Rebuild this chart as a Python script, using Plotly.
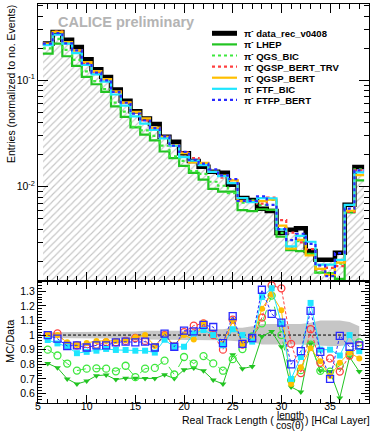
import plotly.graph_objects as go

# bins of the real track length (HCal layer), bin width 1
bins = list(range(6, 39))

# data histogram (normalised entries), pi- data_rec_v0408
data_vals = [0.221, 0.284, 0.240, 0.205, 0.157, 0.127, 0.107, 0.0818, 0.0643, 0.0512,
             0.0438, 0.0387, 0.0294, 0.0264, 0.0206, 0.0174, 0.0154, 0.0138, 0.0135, 0.0104,
             0.00783, 0.00750, 0.0062, 0.0059, 0.00368, 0.00393, 0.00406, 0.00249, 0.00206,
             0.00206, 0.00239, 0.00675, 0.0153]

# MC / data ratios, read from the lower pad
r_lhep = [0.806, 0.776, 0.700, 0.665, 0.685, 0.722, 0.727, 0.695, 0.705, 0.705, 0.703, 0.703,
          0.728, 0.703, 0.762, 0.775, 0.755, 0.692, 0.665, 0.865, 0.770, 0.785, 0.990, 1.025,
          0.920, 0.645, 0.610, 0.940, 0.755, 0.750, 0.570, 0.850, 0.750]
r_qgs_bic = [0.900, 0.860, 0.805, 0.757, 0.770, 0.772, 0.770, 0.752, 0.790, 0.712, 0.770, 0.775,
             0.825, 0.730, 0.850, 0.805, 0.856, 0.806, 0.756, 0.835, 0.904, 0.990, 1.080, 1.270,
             1.000, 0.690, 0.760, 0.935, 0.755, 0.750, 0.790, 0.875, 0.950]
r_qgsp_trv = [1.000, 1.012, 0.935, 0.930, 0.910, 0.935, 0.950, 0.950, 0.960, 0.980, 0.960, 0.915,
              1.000, 0.920, 1.020, 1.065, 1.080, 1.000, 0.900, 1.105, 0.935, 0.970, 1.120, 1.340,
              1.320, 0.940, 0.740, 1.040, 0.810, 0.840, 0.750, 0.860, 0.930]
r_qgsp_bert = [1.000, 1.000, 0.950, 0.932, 0.945, 0.960, 0.960, 0.960, 0.965, 0.985, 1.000, 0.925,
               1.000, 0.930, 1.000, 0.970, 1.085, 1.000, 0.940, 1.100, 0.940, 0.970, 1.180, 1.280,
               1.170, 0.665, 0.780, 0.910, 0.820, 0.720, 0.810, 0.880, 0.840]
r_ftf_bic = [0.966, 0.943, 0.920, 0.876, 0.885, 0.893, 0.905, 0.898, 0.898, 0.893, 0.893, 0.880,
             0.968, 0.918, 0.920, 1.010, 1.035, 1.000, 0.930, 1.040, 1.000, 0.955, 1.260, 1.320,
             1.080, 0.700, 0.850, 1.220, 0.900, 0.900, 0.860, 1.000, 0.890]
r_ftfp_bert = [1.000, 0.975, 0.925, 0.930, 0.915, 0.930, 0.930, 0.950, 0.955, 0.950, 0.955, 0.915,
               1.010, 0.920, 1.030, 1.025, 1.070, 1.055, 0.945, 1.130, 0.940, 0.980, 1.310, 1.145,
               1.085, 0.800, 0.890, 1.165, 0.885, 0.700, 0.995, 0.920, 0.930]

# data uncertainty band in the ratio pad
band_up = [1.02, 1.02, 1.02, 1.02, 1.02, 1.02, 1.02, 1.025, 1.025, 1.025, 1.03, 1.03, 1.03, 1.03,
           1.03, 1.04, 1.04, 1.04, 1.04, 1.05, 1.05, 1.06, 1.075, 1.075, 1.075, 1.075, 1.075,
           1.085, 1.10, 1.10, 1.10, 1.09, 1.06]
band_lo = [0.98, 0.98, 0.98, 0.98, 0.98, 0.98, 0.98, 0.975, 0.975, 0.975, 0.97, 0.97, 0.97, 0.97,
           0.97, 0.965, 0.965, 0.965, 0.965, 0.96, 0.955, 0.95, 0.935, 0.935, 0.935, 0.935, 0.935,
           0.93, 0.925, 0.925, 0.925, 0.93, 0.94]

models = [
    # name, ratio, colour, top line dash, ratio line dash, marker symbol
    ("LHEP", r_lhep, "#22c422", "solid", "solid", "triangle-down"),
    ("QGS_BIC", r_qgs_bic, "#3ee83e", "dot", "dash", "circle-open"),
    ("QGSP_BERT_TRV", r_qgsp_trv, "#ff4040", "dot", "3px,2px", "circle-open"),
    ("QGSP_BERT", r_qgsp_bert, "#ffbf00", "solid", "solid", "circle"),
    ("FTF_BIC", r_ftf_bic, "#1ee6ff", "solid", "solid", "square"),
    ("FTFP_BERT", r_ftfp_bert, "#2a2aff", "dot", "3px,2px", "square-open"),
]

log_ticks = [0.01, 0.1]
log_ticktext = ["10<sup>-2</sup>", "10<sup>-1</sup>"]

X_RANGE = [5, 39]
W, H = 374, 431
L, R, T, B = 38, 5, 4, 28
PW, PH = W - L - R, H - T - B
SPLIT = (H - B - 281) / PH
FONT = "Liberation Sans, Arial, sans-serif"


def px(x):
    return (x - L) / PW


def py(y):
    return (H - B - y) / PH


edges = [b - 0.5 for b in bins] + [bins[-1] + 0.5]

fig = go.Figure()

# data: hatched histogram + thick black outline
fig.add_trace(go.Bar(
    x=bins, y=data_vals, width=1, xaxis="x", yaxis="y",
    marker=dict(color="white", line_width=0,
                pattern=dict(shape="/", fgcolor="#8a8a8a", bgcolor="white", size=5, solidity=0.22)),
    showlegend=False))
fig.add_trace(go.Scatter(
    x=edges, y=data_vals + [data_vals[-1]], mode="lines", line_shape="hv",
    line=dict(color="black", width=4.5), xaxis="x", yaxis="y", showlegend=False))

for name, ratio, col, tdash, rdash, sym in models:
    mc = [d * r for d, r in zip(data_vals, ratio)]
    fig.add_trace(go.Scatter(
        x=edges, y=mc + [mc[-1]], mode="lines", line_shape="hv",
        line=dict(color=col, width=2.2, dash=tdash), xaxis="x", yaxis="y", showlegend=False))

# ratio pad
fig.add_trace(go.Scatter(
    x=bins + bins[::-1], y=band_up + band_lo[::-1], fill="toself", fillcolor="#c6c6c6",
    line=dict(width=0), mode="lines", xaxis="x2", yaxis="y2", showlegend=False))
fig.add_trace(go.Scatter(
    x=X_RANGE, y=[1, 1], mode="lines", line=dict(color="black", width=1, dash="3px,2px"),
    xaxis="x2", yaxis="y2", showlegend=False))
for name, ratio, col, tdash, rdash, sym in models:
    fig.add_trace(go.Scatter(
        x=bins, y=ratio, mode="lines+markers", xaxis="x2", yaxis="y2", showlegend=False,
        line=dict(color=col, width=1, dash=rdash),
        marker=dict(symbol=sym, size=6 if "open" not in sym else 7, color=col,
                    line=dict(color=col, width=1.3 if "open" in sym else 0))))

minor_log = [m * 10 ** e for e in (-3, -2, -1) for m in range(2, 10)]
axis_common = dict(showline=True, linecolor="black", linewidth=1, mirror="ticks",
                   ticks="inside", tickcolor="black", showgrid=False, zeroline=False,
                   tickfont=dict(family=FONT, size=10.5, color="black"))

fig.update_layout(
    width=W, height=H, margin=dict(l=L, r=R, t=T, b=B),
    paper_bgcolor="white", plot_bgcolor="white", showlegend=False, bargap=0,
    font=dict(family=FONT, color="black"),
    xaxis=dict(domain=[0, 1], range=X_RANGE, anchor="y", showticklabels=False,
               tickmode="linear", tick0=0, dtick=5, ticklen=9,
               minor=dict(ticks="inside", dtick=1, tick0=0, ticklen=5, tickcolor="black"),
               **axis_common),
    yaxis=dict(domain=[SPLIT, 1], type="log", range=[-2.886, -0.284], anchor="x",
               tickmode="array", tickvals=log_ticks, ticktext=log_ticktext, ticklen=10,
               minor=dict(ticks="inside", tickmode="array", tickvals=minor_log, ticklen=5,
                          tickcolor="black"),
               **axis_common),
    xaxis2=dict(domain=[0, 1], range=X_RANGE, anchor="y2",
                tickmode="linear", tick0=0, dtick=5, ticklen=8, ticklabelstandoff=-7,
                minor=dict(ticks="inside", dtick=1, tick0=0, ticklen=4, tickcolor="black"),
                **axis_common),
    yaxis2=dict(domain=[0, SPLIT], range=[0.535, 1.37], anchor="x2",
                tickmode="linear", tick0=0, dtick=0.1, ticklen=8,
                minor=dict(ticks="inside", dtick=0.02, tick0=0, ticklen=4, tickcolor="black"),
                **axis_common),
)

ann = []
shapes = []
ann.append(dict(text="<b>CALICE preliminary</b>", x=px(56), y=py(22), xref="paper", yref="paper",
                xanchor="left", yanchor="middle", showarrow=False,
                font=dict(family=FONT, size=14.5, color="#b4b4b4")))

# legend
leg = [("data_rec_v0408", "black", "solid", 5)] + [(m[0], m[2], m[3], 2.2) for m in models]
for i, (name, col, dash, w) in enumerate(leg):
    yy = 33.3 + i * 11.1
    shapes.append(dict(type="line", xref="paper", yref="paper", x0=px(212), x1=px(237),
                       y0=py(yy), y1=py(yy), line=dict(color=col, width=w, dash=dash)))
    ann.append(dict(text="<b>\u03c0<sup>-</sup> " + name + "</b>", x=px(242), y=py(yy),
                    xref="paper", yref="paper", xanchor="left", yanchor="middle",
                    showarrow=False, font=dict(family=FONT, size=9.5, color="black")))

# axis titles
ann.append(dict(text="Entries (normalized to no. Events)", textangle=-90, x=px(11), y=py(3),
                xref="paper", yref="paper", xanchor="center", yanchor="top", showarrow=False,
                font=dict(family=FONT, size=10.5)))
ann.append(dict(text="MC/Data", textangle=-90, x=px(10), y=py(341), xref="paper", yref="paper",
                xanchor="center", yanchor="middle", showarrow=False,
                font=dict(family=FONT, size=11)))
ann.append(dict(text="Real Track Length (", x=px(276), y=py(420), xref="paper", yref="paper",
                xanchor="right", yanchor="middle", showarrow=False,
                font=dict(family=FONT, size=10.5)))
ann.append(dict(text="length", x=px(290), y=py(415), xref="paper", yref="paper",
                xanchor="center", yanchor="middle", showarrow=False,
                font=dict(family=FONT, size=10)))
ann.append(dict(text="cos(\u03b8)", x=px(290), y=py(425.5), xref="paper", yref="paper",
                xanchor="center", yanchor="middle", showarrow=False,
                font=dict(family=FONT, size=10)))
shapes.append(dict(type="line", xref="paper", yref="paper", x0=px(277), x1=px(303),
                   y0=py(419.8), y1=py(419.8), line=dict(color="black", width=1)))
ann.append(dict(text=") [HCal Layer]", x=px(303), y=py(420), xref="paper", yref="paper",
                xanchor="left", yanchor="middle", showarrow=False,
                font=dict(family=FONT, size=10.5)))

fig.update_layout(annotations=ann, shapes=shapes)
fig.write_html("out.html", config={"displayModeBar": False},
               post_script="document.body.style.margin='0';")
